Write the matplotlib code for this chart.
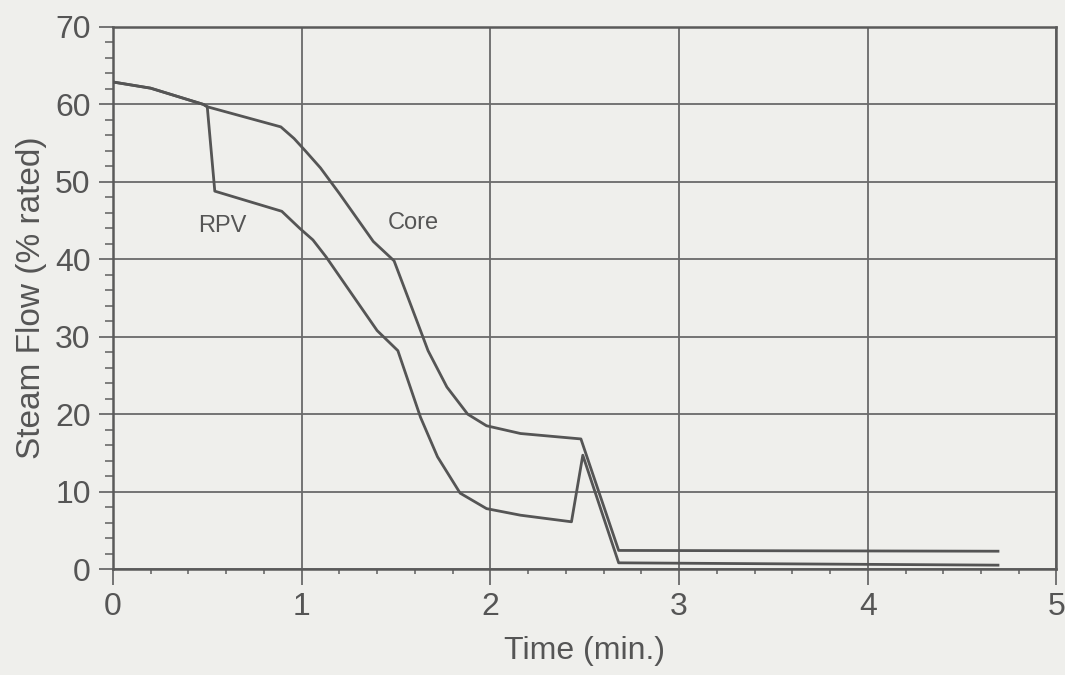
import numpy as np
import matplotlib
matplotlib.use("Agg")
import matplotlib.pyplot as plt
from matplotlib.ticker import MultipleLocator

plt.rcParams['font.family'] = ['Liberation Sans', 'DejaVu Sans']

# values
core_t = [0.0, 0.2, 0.48, 0.5, 0.89, 0.96, 1.02, 1.1, 1.2, 1.38, 1.49, 1.63, 1.67,
          1.77, 1.88, 1.98, 2.16, 2.48, 2.68, 4.69]
core_flow = [62.9, 62.1, 60.0, 59.7, 57.1, 55.6, 54.0, 51.8, 48.5, 42.3, 39.8, 30.8, 28.2,
             23.5, 20.0, 18.5, 17.5, 16.8, 2.4, 2.3]

rpv_t = [0.0, 0.2, 0.48, 0.5, 0.54, 0.895, 0.99, 1.06, 1.13, 1.4, 1.51, 1.63,
         1.72, 1.84, 1.98, 2.16, 2.43, 2.49, 2.68, 4.69]
rpv_flow = [62.9, 62.1, 60.0, 59.7, 48.8, 46.2, 44.0, 42.5, 40.3, 30.8, 28.2, 19.6,
            14.5, 9.8, 7.8, 6.95, 6.1, 14.7, 0.8, 0.5]

ink = '#555555'
paper = '#efefec'

fig = plt.figure(figsize=(10.65, 6.75), dpi=100, facecolor=paper)
ax = fig.add_axes([0.106, 0.157, 0.886, 0.803])
ax.set_facecolor(paper)

ax.plot(core_t, core_flow, color=ink, lw=2.0, zorder=3)
ax.plot(rpv_t, rpv_flow, color=ink, lw=2.0, zorder=3)

ax.text(0.58, 44.3, 'RPV', color=ink, fontsize=17, ha='center', va='center')
ax.text(1.59, 44.7, 'Core', color=ink, fontsize=17, ha='center', va='center')

ax.set_xlim(0, 5)
ax.set_ylim(0, 70)
ax.xaxis.set_major_locator(MultipleLocator(1))
ax.xaxis.set_minor_locator(MultipleLocator(0.2))
ax.yaxis.set_major_locator(MultipleLocator(10))
ax.yaxis.set_minor_locator(MultipleLocator(2))
ax.grid(True, which='major', color='#6a6a6a', lw=1.3)

for s in ax.spines.values():
    s.set_color('#5a5a5a')
    s.set_linewidth(1.8)

ax.tick_params(which='major', direction='out', width=1.3,
               color='#6a6a6a', labelsize=23, labelcolor=ink)
ax.tick_params(axis='x', which='major', length=11.5, pad=5)
ax.tick_params(axis='y', which='major', length=10, pad=6)
ax.tick_params(axis='x', which='minor', direction='out', length=3.5, width=1.2, color='#6a6a6a')
ax.tick_params(axis='y', which='minor', direction='out', length=6, width=1.2, color='#6a6a6a')

ax.set_xlabel('Time (min.)', fontsize=23, color=ink, labelpad=10)
ax.set_ylabel('Steam Flow (% rated)', fontsize=24, color=ink, labelpad=6)

fig.savefig('out.png', dpi=100, facecolor=paper)
